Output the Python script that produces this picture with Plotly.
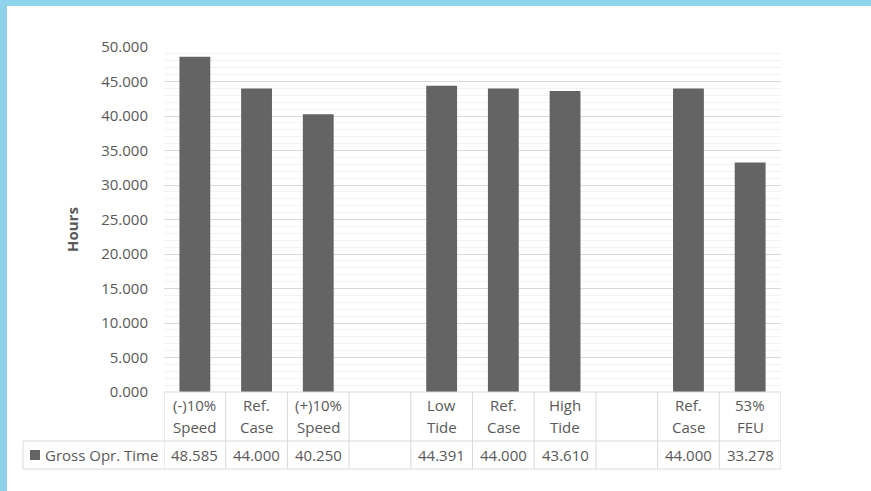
import plotly.graph_objects as go

# Scenario categories (blank entries are spacer columns between groups)
categories = ["(-)10%<br>Speed", "Ref.<br>Case", "(+)10%<br>Speed", "",
              "Low<br>Tide", "Ref.<br>Case", "High<br>Tide", "",
              "Ref.<br>Case", "53%<br>FEU"]
gross_opr_time = [48.585, 44.000, 40.250, None,
                  44.391, 44.000, 43.610, None,
                  44.000, 33.278]
series_name = "Gross Opr. Time"
y_ticks = [0, 5, 10, 15, 20, 25, 30, 35, 40, 45, 50]

W, H = 871, 491
ML, MR, MT, MB = 164, 90, 47, 99
PW, PH = W - ML - MR, H - MT - MB

BAR = "#646464"
TXT = "#595959"
LINE = "#d9d9d9"
FONT = "Open Sans, Liberation Sans, sans-serif"
FS = 15


def px(xp):
    return (xp - ML) / PW


def py(yp):
    return 1 - (yp - MT) / PH


n = len(categories)
xs = list(range(n))

fig = go.Figure()
fig.add_trace(go.Bar(x=xs, y=gross_opr_time, width=0.5,
                     marker=dict(color=BAR, line=dict(width=0)),
                     name=series_name, showlegend=False))

shapes = []
annotations = []

# light blue frame along the top and left edges
shapes.append(dict(type="rect", xref="paper", yref="paper",
                   x0=px(0), x1=px(W), y0=py(0), y1=py(6),
                   fillcolor="#8fd3ea", line=dict(width=0), layer="above"))
shapes.append(dict(type="rect", xref="paper", yref="paper",
                   x0=px(0), x1=px(7), y0=py(0), y1=py(H),
                   fillcolor="#8fd3ea", line=dict(width=0), layer="above"))

# data table grid under the plot
row1, row2, row3 = 392, 441, 469
tbl_left = 23
for yy, x0 in [(row1, ML), (row2, tbl_left), (row3, tbl_left)]:
    shapes.append(dict(type="line", xref="paper", yref="paper",
                       x0=px(x0), x1=px(ML + PW), y0=py(yy), y1=py(yy),
                       line=dict(color=LINE, width=1)))
for i in range(n + 1):
    shapes.append(dict(type="line", xref="x", yref="paper",
                       x0=i - 0.5, x1=i - 0.5, y0=py(row1), y1=py(row3),
                       line=dict(color=LINE, width=1)))
shapes.append(dict(type="line", xref="paper", yref="paper",
                   x0=px(tbl_left), x1=px(tbl_left), y0=py(row2), y1=py(row3),
                   line=dict(color=LINE, width=1)))

# legend key square and series name
shapes.append(dict(type="rect", xref="paper", yref="paper",
                   x0=px(30), x1=px(40), y0=py(460), y1=py(450),
                   fillcolor=BAR, line=dict(width=0)))
annotations.append(dict(xref="paper", yref="paper", x=px(43), y=py(455),
                        text=series_name, showarrow=False, xanchor="left",
                        yanchor="middle", font=dict(size=FS, color=TXT, family=FONT)))

# category labels and values
for i, (cat, val) in enumerate(zip(categories, gross_opr_time)):
    if cat:
        for j, line in enumerate(cat.split("<br>")):
            annotations.append(dict(xref="x", yref="paper", x=i, y=py(405 + 22 * j),
                                    text=line, showarrow=False, xanchor="center",
                                    yanchor="middle",
                                    font=dict(size=FS, color=TXT, family=FONT)))
    if val is not None:
        annotations.append(dict(xref="x", yref="paper", x=i, y=py(455),
                                text=f"{val:.3f}", showarrow=False, xanchor="center",
                                yanchor="middle",
                                font=dict(size=FS, color=TXT, family=FONT)))

# axis title
annotations.append(dict(xref="paper", yref="paper", x=px(72), y=py(230),
                        text="<b>Hours</b>", textangle=-90, showarrow=False,
                        xanchor="center", yanchor="middle",
                        font=dict(size=FS, color=TXT, family=FONT)))

fig.update_layout(
    width=W, height=H,
    margin=dict(l=ML, r=MR, t=MT, b=MB, pad=0),
    paper_bgcolor="white", plot_bgcolor="white",
    font=dict(family=FONT, color=TXT, size=FS),
    shapes=shapes, annotations=annotations,
    bargap=0.5,
)
fig.update_xaxes(range=[-0.5, n - 0.5], showticklabels=False, showgrid=False,
                 zeroline=False, showline=False, ticks="")
fig.update_yaxes(range=[0, 50], tickvals=y_ticks,
                 ticktext=[f"{v:.3f}" for v in y_ticks],
                 showgrid=True, gridcolor=LINE, gridwidth=1,
                 minor=dict(dtick=1, showgrid=True, gridcolor="#f2f2f2", gridwidth=1),
                 zeroline=False, showline=False, ticks="", ticklabelstandoff=15,
                 tickfont=dict(size=FS, color=TXT, family=FONT))

fig.write_html("out.html")
